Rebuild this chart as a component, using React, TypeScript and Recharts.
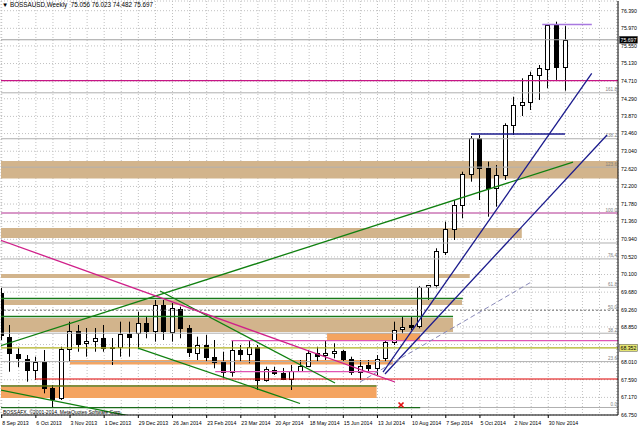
import React from 'react'
import {
  ComposedChart,
  Bar,
  XAxis,
  YAxis,
  CartesianGrid,
  ReferenceLine,
  ReferenceArea,
  ReferenceDot,
} from 'recharts'

const FONT = '"Liberation Sans", Arial, sans-serif'

// BOSSAUSD weekly candles, bar 0 = week of 8 Sep 2013
const opens = [
  69.659, 68.617, 68.204, 68.085, 67.823, 68.021, 67.387, 67.155, 68.324, 68.76,
  68.46, 68.514, 68.579, 68.355, 68.378, 68.681, 68.698, 68.936, 68.76, 69.373,
  68.736, 69.289, 68.831, 68.221, 68.419, 68.14, 68.021, 67.782, 68.3, 68.204,
  68.364, 67.584, 67.823, 67.744, 67.608, 67.806, 67.918, 68.235, 68.18, 68.235,
  68.276, 68.078, 67.782, 67.942, 67.863, 68.109, 68.498, 68.793, 68.889, 68.872,
  69.795, 69.849, 70.644, 71.178, 71.757, 72.489, 73.348, 72.632, 72.155, 72.472,
  73.665, 74.142, 74.22, 74.857, 74.993, 76.049, 75.056,
]
const highs = [
  69.778, 68.896, 68.347, 68.18, 68.14, 68.3, 67.465, 68.378, 68.975, 68.896,
  68.824, 68.824, 68.896, 68.586, 68.975, 68.975, 69.213, 69.094, 69.492, 69.492,
  69.42, 69.332, 68.896, 68.617, 68.657, 68.538, 68.259, 68.538, 68.419, 68.538,
  68.419, 67.902, 67.902, 67.871, 67.942, 68.061, 68.3, 68.378, 68.538, 68.46,
  68.3, 68.14, 68.061, 68.061, 68.18, 68.538, 68.975, 69.094, 69.094, 69.826,
  69.849, 70.725, 71.359, 71.876, 72.551, 73.402, 73.426, 72.79, 72.711, 73.705,
  74.339, 74.778, 74.936, 75.095, 76.073, 76.128, 76.023,
]
const lows = [
  68.538, 67.782, 67.894, 67.544, 67.584, 67.267, 66.929, 67.108, 68.021, 68.259,
  68.14, 68.259, 68.259, 67.942, 68.14, 68.14, 68.34, 68.579, 68.498, 68.538,
  68.498, 68.579, 68.133, 68.061, 68.021, 67.863, 67.625, 67.663, 68.021, 67.983,
  67.346, 67.544, 67.704, 67.584, 67.346, 67.782, 67.902, 68.021, 68.061, 68.102,
  68.021, 67.704, 67.584, 67.775, 67.704, 68.014, 68.419, 68.698, 68.777, 68.817,
  69.492, 69.771, 70.565, 70.923, 71.44, 72.313, 71.876, 71.478, 71.717, 72.353,
  73.426, 73.879, 74.022, 74.261, 74.54, 74.738, 74.482,
]
const closes = [
  68.657, 68.221, 68.102, 67.823, 68.021, 67.387, 67.124, 68.324, 68.76, 68.443,
  68.514, 68.593, 68.355, 68.371, 68.681, 68.617, 68.936, 68.76, 69.373, 68.76,
  69.294, 68.836, 68.252, 68.419, 68.126, 68.021, 67.782, 68.3, 68.204, 68.378,
  67.584, 67.84, 67.758, 67.608, 67.806, 67.918, 68.235, 68.157, 68.235, 68.276,
  68.078, 67.782, 67.918, 67.863, 68.078, 68.498, 68.777, 68.855, 68.848, 69.795,
  69.842, 70.667, 71.178, 71.757, 72.489, 73.348, 72.632, 72.155, 72.472, 73.665,
  74.142, 74.22, 74.857, 75.017, 76.049, 75.055, 75.697,
]

const dateTickBars = [0, 4, 8, 12, 16, 20, 24, 28, 32, 36, 40, 44, 48, 52, 56, 60, 64]
const dateLabels = [
  '8 Sep 2013', '6 Oct 2013', '3 Nov 2013', '1 Dec 2013', '29 Dec 2013', '26 Jan 2014',
  '23 Feb 2014', '23 Mar 2014', '20 Apr 2014', '18 May 2014', '15 Jun 2014', '13 Jul 2014',
  '10 Aug 2014', '7 Sep 2014', '5 Oct 2014', '2 Nov 2014', '30 Nov 2014',
]
const gridBars = [
  0, 2, 4, 6, 8, 10, 12, 14, 16, 18, 20, 22, 24, 26, 28, 30, 32, 34, 36,
  38, 40, 42, 44, 46, 48, 50, 52, 54, 56, 58, 60, 62, 64, 66, 68, 70, 72,
]
const priceTicks = [
  76.39, 75.97, 75.55, 75.13, 74.71, 74.29, 73.87, 73.46, 73.04, 72.62, 72.2, 71.78,
  71.36, 70.94, 70.52, 70.1, 69.68, 69.26, 68.85, 68.43, 68.01, 67.59, 67.17, 66.75,
]

// fibonacci levels drawn on the chart
const fibLabels = ['0.0', '23.6', '38.2', '50.0', '61.8', '76.4', '100.0', '123.6', '138.2', '161.8']
const fibPrices = [66.929, 68.023, 68.7, 69.248, 69.795, 70.472, 71.566, 72.66, 73.337, 74.432]

const bidPrice = 75.697
const olivePrice = 68.352
const crimsonPrice = 74.721
const grayPrice = 70.851

// [low, high, fromBar, toBar]
const tanBands = [
  [72.389, 72.806, -1, 73],
  [70.97, 71.209, -1, 60.9],
  [70.017, 70.112, -1, 54.8],
  [69.373, 69.492, -1, 53.9],
  [68.729, 69.063, -1, 52.85],
]
const orangeBands = [
  [68.538, 68.705, 38.1, 49.0],
  [67.954, 68.061, 8.0, 45.8],
  [67.155, 67.418, -1, 43.9],
]

// [price, fromBar, toBar]
const violetLevel = [76.061, 63.3, 69.1]
const navyLevel = [73.45, 54.95, 65.96]
const greenLevels = [
  [69.528, -1, 54.0],
  [69.099, -1, 52.85],
]
const pinkLevels = [
  [68.522, 26.9, 73],
  [67.782, 25.0, 44.0],
]
const redLevel = [67.608, 3.9, 73]
const oliveLowLevel = [67.441, -1, 43.9]
const darkGreenLevel = [66.924, -1, 49.0]

// trend lines [[bar, price], [bar, price]]
const greenRise = [[-0.2, 68.395], [66.9, 72.782]]
const greenFallA = [[15.96, 68.347], [34.93, 67.024]]
const greenFallB = [[18.54, 69.707], [39.03, 67.513]]
const greenFallC = [[-0.2, 67.346], [15.41, 66.709]]
const magentaFall = [[-0.2, 70.923], [46.05, 67.537]]
const navySteep = [[44.65, 67.775], [69.09, 74.897]]
const navyShallow = [[44.88, 67.727], [70.88, 73.426]]
const dashedRise = [[41.96, 67.537], [62.21, 69.945]]

const crossMark = [46.76, 66.988]

const chartData = opens.map((open, i) => ({
  i,
  open,
  high: highs[i],
  low: lows[i],
  close: closes[i],
  range: [lows[i], highs[i]],
}))

const seg = (pts: number[][]) => [
  { x: pts[0][0], y: pts[0][1] },
  { x: pts[1][0], y: pts[1][1] },
]
const flat = (lv: number[]) => [
  { x: lv[1], y: lv[0] },
  { x: lv[2], y: lv[0] },
]

function Candle(props: any) {
  const { x, y, width, height, payload } = props
  if (!payload || height == null) return null
  const { open, close, high, low } = payload
  const k = high > low ? height / (high - low) : 0
  const cx = Math.floor(x + width / 2) + 0.5
  const yOf = (v: number) => y + (high - v) * k
  const top = Math.round(yOf(Math.max(open, close))) + 0.5
  const bot = Math.round(yOf(Math.min(open, close))) + 0.5
  const up = close >= open
  return (
    <g>
      <line x1={cx} x2={cx} y1={y} y2={y + height} stroke="#000" strokeWidth={1} />
      {bot - top < 1 ? (
        <line x1={cx - 2.5} x2={cx + 2.5} y1={top} y2={top} stroke="#000" />
      ) : (
        <rect x={cx - 2} y={top} width={4} height={bot - top} fill={up ? '#fff' : '#000'} stroke="#000" />
      )}
    </g>
  )
}

function PriceTick(props: any) {
  const { x, y, payload } = props
  if (payload.value === 68.43) return <g />
  return (
    <text x={x} y={y} dy="0.35em" fontSize={5.2} fontFamily={FONT} fill="#000">
      {payload.value.toFixed(3)}
    </text>
  )
}

function DateTick(props: any) {
  const { x, y, payload } = props
  const idx = dateTickBars.indexOf(payload.value)
  if (idx < 0) return <g />
  return (
    <g>
      <line x1={x} x2={x} y1={y} y2={y + 3} stroke="#000" />
      <text x={x + 0.5} y={y + 8} dy="0.35em" fontSize={5.2} fontFamily={FONT} fill="#000">
        {dateLabels[idx]}
      </text>
    </g>
  )
}

const fibLabel = (text: string) => (p: any) => {
  const vb = p.viewBox
  return (
    <text x={vb.x + vb.width - 1} y={vb.y - 1.5} textAnchor="end" fontSize={4.6} fontFamily={FONT} fill="#808080">
      {text}
    </text>
  )
}

const axisBox = (text: string, fill: string, color: string) => (p: any) => {
  const vb = p.viewBox
  const bx = vb.x + vb.width + 1.5
  return (
    <g>
      <rect x={bx} y={vb.y - 3.5} width={18} height={7} fill={fill} stroke="#555" strokeWidth={0.5} />
      <text x={bx + 1} y={vb.y} dy="0.35em" fontSize={5.2} fontFamily={FONT} fill={color}>
        {text}
      </text>
    </g>
  )
}

export default function App() {
  const last = opens.length - 1
  const header = `BOSSAUSD,Weekly  ${opens[last].toFixed(3)} ${highs[last].toFixed(3)} ${lows[last].toFixed(3)} ${closes[last].toFixed(3)}`
  return (
    <div style={{ position: 'relative', width: 640, height: 427, background: '#fff' }}>
      <style>{'body{margin:0;background:#fff}'}</style>
      <ComposedChart
        width={640}
        height={427}
        data={chartData}
        margin={{ top: 1, right: 0, bottom: 0, left: 1 }}
      >
        <CartesianGrid stroke="#c0c0c0" strokeDasharray="1 2" />
        <XAxis
          dataKey="i"
          type="number"
          domain={[-0.082, 72.166]}
          allowDataOverflow
          ticks={gridBars}
          interval={0}
          height={12}
          tickSize={0}
          tickMargin={0}
          tickLine={false}
          axisLine={{ stroke: '#000' }}
          tick={<DateTick />}
        />
        <YAxis
          orientation="right"
          type="number"
          domain={[66.75, 76.621]}
          allowDataOverflow
          ticks={priceTicks}
          interval={0}
          width={22}
          tickSize={0}
          tickMargin={3}
          tickLine={false}
          axisLine={{ stroke: '#000' }}
          tick={<PriceTick />}
        />

        {tanBands.map((b, k) => (
          <ReferenceArea key={'t' + k} y1={b[0]} y2={b[1]} x1={b[2]} x2={b[3]} fill="#d2b48c" fillOpacity={1} stroke="none" ifOverflow="hidden" />
        ))}
        {orangeBands.map((b, k) => (
          <ReferenceArea key={'o' + k} y1={b[0]} y2={b[1]} x1={b[2]} x2={b[3]} fill="#f4a460" fillOpacity={1} stroke="none" ifOverflow="hidden" />
        ))}

        {fibPrices.map((p, k) =>
          fibLabels[k] === '100.0' ? (
            <ReferenceLine key={'f' + k} y={p} stroke="#b03090" strokeWidth={1} label={fibLabel(fibLabels[k])} />
          ) : (
            <ReferenceLine
              key={'f' + k}
              y={p}
              stroke={fibLabels[k] === '50.0' ? '#707070' : '#b0b0b0'}
              strokeDasharray={fibLabels[k] === '50.0' ? '2 2' : undefined}
              strokeWidth={1}
              label={fibLabel(fibLabels[k])}
            />
          )
        )}
        <ReferenceLine y={grayPrice} stroke="#b0b0b0" />
        <ReferenceLine y={bidPrice} stroke="#a0a0a0" label={axisBox(bidPrice.toFixed(3), '#000', '#fff')} />
        <ReferenceLine y={crimsonPrice} stroke="#c71585" strokeWidth={1.2} />
        <ReferenceLine y={olivePrice} stroke="#b0b020" strokeWidth={1.2} label={axisBox(olivePrice.toFixed(3), '#e4e470', '#000')} />

        <ReferenceLine segment={flat(violetLevel)} stroke="#a878e0" strokeWidth={1.5} ifOverflow="hidden" />
        <ReferenceLine segment={flat(navyLevel)} stroke="#1a1a8c" strokeWidth={1.5} ifOverflow="hidden" />
        {greenLevels.map((lv, k) => (
          <ReferenceLine key={'g' + k} segment={flat(lv)} stroke="#1a7a1a" strokeWidth={1.3} ifOverflow="hidden" />
        ))}
        {pinkLevels.map((lv, k) => (
          <ReferenceLine key={'p' + k} segment={flat(lv)} stroke="#e055b5" strokeWidth={1.3} ifOverflow="hidden" />
        ))}
        <ReferenceLine segment={flat(redLevel)} stroke="#e00000" strokeWidth={1.2} ifOverflow="hidden" />
        <ReferenceLine segment={flat(oliveLowLevel)} stroke="#5a6a00" strokeWidth={1.3} ifOverflow="hidden" />
        <ReferenceLine segment={flat(darkGreenLevel)} stroke="#1a6a1a" strokeWidth={1.3} ifOverflow="hidden" />

        <Bar dataKey="range" barSize={6} shape={<Candle />} isAnimationActive={false} />

        <ReferenceLine segment={seg(greenRise)} stroke="#108010" strokeWidth={1.3} ifOverflow="hidden" />
        <ReferenceLine segment={seg(greenFallA)} stroke="#108010" strokeWidth={1.3} ifOverflow="hidden" />
        <ReferenceLine segment={seg(greenFallB)} stroke="#108010" strokeWidth={1.3} ifOverflow="hidden" />
        <ReferenceLine segment={seg(greenFallC)} stroke="#108010" strokeWidth={1.3} ifOverflow="hidden" />
        <ReferenceLine segment={seg(magentaFall)} stroke="#d0208a" strokeWidth={1.3} ifOverflow="hidden" />
        <ReferenceLine segment={seg(navySteep)} stroke="#1a1a8c" strokeWidth={1.3} ifOverflow="hidden" />
        <ReferenceLine segment={seg(navyShallow)} stroke="#1a1a8c" strokeWidth={1.3} ifOverflow="hidden" />
        <ReferenceLine segment={seg(dashedRise)} stroke="#8888b8" strokeWidth={1} strokeDasharray="5 3" ifOverflow="hidden" />

        <ReferenceDot
          x={crossMark[0]}
          y={crossMark[1]}
          r={3}
          shape={(p: any) => (
            <g stroke="#e01010" strokeWidth={1.6}>
              <line x1={p.cx - 2.5} y1={p.cy - 2.5} x2={p.cx + 2.5} y2={p.cy + 2.5} />
              <line x1={p.cx - 2.5} y1={p.cy + 2.5} x2={p.cx + 2.5} y2={p.cy - 2.5} />
            </g>
          )}
        />
      </ComposedChart>
      <div style={{ position: 'absolute', left: 2, top: 1, fontFamily: FONT, fontSize: 6.3, lineHeight: '8px', color: '#000', whiteSpace: 'pre' }}>
        {'▼ ' + header}
      </div>
      <div style={{ position: 'absolute', left: 3, top: 409, fontFamily: FONT, fontSize: 5, lineHeight: '7px', color: '#000', whiteSpace: 'pre' }}>
        BOSSAFX, ©2001-2014, MetaQuotes Software Corp.
      </div>
    </div>
  )
}
